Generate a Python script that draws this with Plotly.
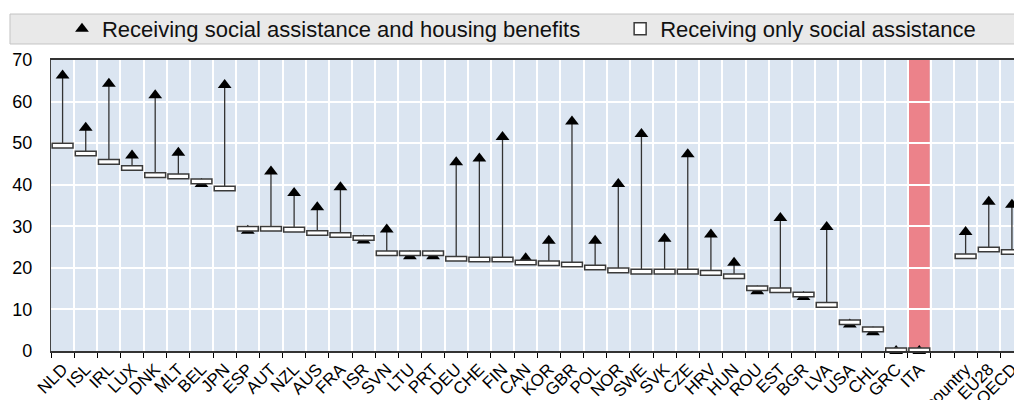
import plotly.graph_objects as go

# ---- data -----------------------------------------------------------------
categories = ["NLD", "ISL", "IRL", "LUX", "DNK", "MLT", "BEL", "JPN", "ESP", "AUT",
              "NZL", "AUS", "FRA", "ISR", "SVN", "LTU", "PRT", "DEU", "CHE", "FIN",
              "CAN", "KOR", "GBR", "POL", "NOR", "SWE", "SVK", "CZE", "HRV", "HUN",
              "ROU", "EST", "BGR", "LVA", "USA", "CHL", "GRC", "ITA",
              "Cross-country", "EU28", "OECD"]

social_only = [49.4, 47.5, 45.5, 44.0, 42.3, 42.0, 40.8, 39.1, 29.4, 29.4,
               29.2, 28.4, 27.9, 27.2, 23.5, 23.5, 23.5, 22.2, 22.0, 22.0,
               21.3, 21.1, 20.8, 20.1, 19.4, 19.1, 19.1, 19.1, 18.8, 18.0,
               15.1, 14.6, 13.6, 11.1, 6.9, 5.2, 0.2, 0.2,
               22.8, 24.4, 23.8]

with_housing = [66.3, 53.7, 64.3, 47.0, 61.5, 47.7, 40.2, 64.0, 28.9, 43.2,
                38.0, 34.6, 39.4, 26.6, 29.2, 22.8, 22.8, 45.4, 46.3, 51.5,
                22.3, 26.5, 55.2, 26.5, 40.2, 52.2, 27.0, 47.3, 28.0, 21.2,
                14.4, 32.0, 13.0, 29.8, 6.4, 4.5, 0.0, 0.0,
                28.6, 35.9, 35.2]

gap_label = " "
highlight = "ITA"
y_ticks = [0, 10, 20, 30, 40, 50, 60, 70]

# axis order: countries, an empty slot, then the averages
axis_order = categories[:38] + [gap_label] + categories[38:]

# ---- style ----------------------------------------------------------------
FONT = "Arial, Liberation Sans, sans-serif"
RECT_H = 1.1  # height of the white boxes, in data units

# connectors
cx, cy = [], []
for c, a, b in zip(categories, social_only, with_housing):
    cx += [c, c, None]
    cy += [a, b, None]

fig = go.Figure()

fig.add_trace(go.Scatter(
    x=cx, y=cy, mode="lines", line=dict(color="#333333", width=1.3),
    showlegend=False, hoverinfo="skip", cliponaxis=False, xaxis="x", yaxis="y"))

fig.add_trace(go.Scatter(
    x=categories, y=with_housing, mode="markers",
    name="Receiving social assistance and housing benefits",
    marker=dict(symbol="triangle-up", size=12, color="#000000"),
    cliponaxis=False, legend="legend", xaxis="x", yaxis="y"))

fig.add_trace(go.Bar(
    x=categories, y=[RECT_H] * len(social_only),
    base=[v - RECT_H / 2 for v in social_only],
    width=0.9,
    name="Receiving only social assistance",
    marker=dict(color="#ffffff", line=dict(color="#3a3a3a", width=1.5)),
    cliponaxis=False, legend="legend2", xaxis="x", yaxis="y2",
    customdata=social_only, hovertemplate="%{x}: %{customdata}<extra></extra>"))

hi = categories.index(highlight)
fig.add_shape(type="rect", xref="x", yref="paper",
              x0=hi - 0.45, x1=hi + 0.45, y0=0, y1=1.007,
              fillcolor="rgb(236,130,138)", line=dict(width=0), layer="between")

# legend background band
fig.add_shape(type="rect", xref="paper", yref="paper",
              x0=-0.0426, x1=1.002, y0=1.055, y1=1.158,
              fillcolor="#e9e9e9", line=dict(color="#c4c4c4", width=1), layer="below")

fig.update_layout(
    width=1014, height=400,
    margin=dict(l=51, r=0, t=60, b=49, autoexpand=False),
    paper_bgcolor="#ffffff", plot_bgcolor="#dbe5f1",
    font=dict(family=FONT, color="#000000"),
    bargap=0.1,
    legend=dict(orientation="h", x=0.0114, xanchor="left", y=1.1065, yanchor="middle",
                bgcolor="rgba(0,0,0,0)", font=dict(size=22, color="#111111"),
                itemclick=False, itemdoubleclick=False),
    legend2=dict(orientation="h", x=0.591, xanchor="left", y=1.1065, yanchor="middle",
                 bgcolor="rgba(0,0,0,0)", font=dict(size=22, color="#111111"),
                 itemclick=False, itemdoubleclick=False),
    xaxis=dict(type="category", categoryorder="array", categoryarray=axis_order,
               range=[-0.5, 41.09], tickson="boundaries", ticks="outside", ticklen=5,
               tickcolor="#000000", tickwidth=1.2,
               showgrid=True, gridcolor="#ffffff", gridwidth=1.5,
               tickangle=-45, tickfont=dict(size=17, color="#000000"),
               showline=True, linecolor="#333333", linewidth=1.5, mirror=True,
               automargin=False, fixedrange=True),
    yaxis=dict(range=[0, 70], tickvals=y_ticks, showgrid=True, gridcolor="#ffffff",
               gridwidth=1.5, zeroline=False, showline=True, linecolor="#444444",
               linewidth=1.2, ticks="", ticklabelstandoff=14,
               tickfont=dict(size=18, color="#000000"), automargin=False, fixedrange=True),
    yaxis2=dict(range=[0, 70], overlaying="y", visible=False, fixedrange=True),
)

# remove the default 8px page margin so the 1014x400 figure fills the window exactly
fig.write_html(
    "out.html",
    config={"displayModeBar": False},
    post_script="document.body.style.margin='0';"
                "document.documentElement.style.overflow='hidden';",
)
